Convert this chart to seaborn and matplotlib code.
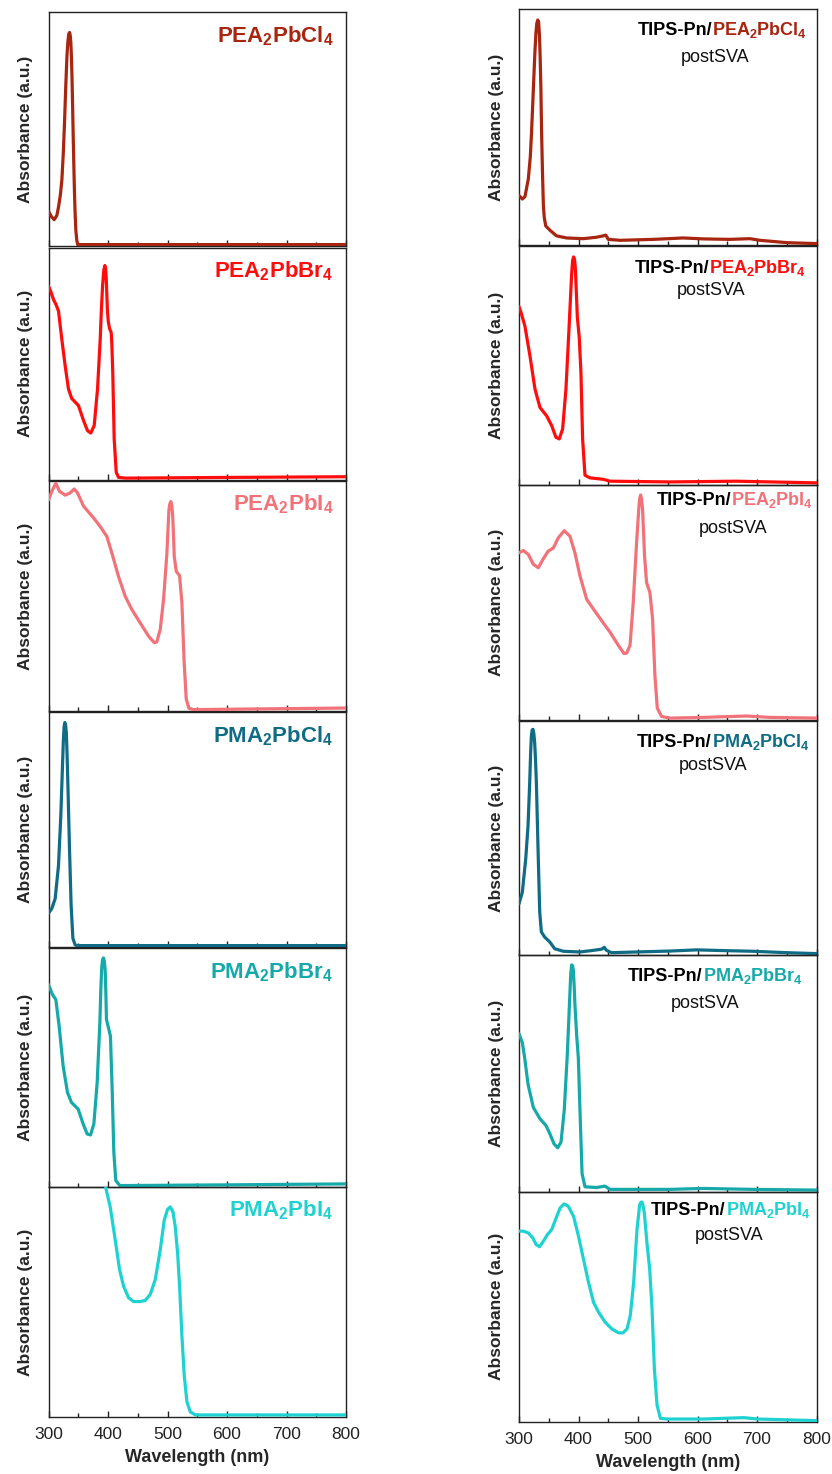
import numpy as np
import pandas as pd
import matplotlib.pyplot as plt
from matplotlib.ticker import MultipleLocator
import seaborn as sns

sns.set_style('white')
plt.rcParams['font.family'] = ['Liberation Sans', 'DejaVu Sans']
plt.rcParams['mathtext.default'] = 'regular'

# ---- pristine films (left column) ----
pea_cl_wl = [300, 305, 309.5, 314, 317, 320, 322.5, 325, 327, 329, 331, 332.5, 334, 335.3, 336.5, 337.5, 338.5, 339.5, 340.5, 341.5, 342.5, 343.5, 344.5, 346, 347.5, 349, 360, 500, 800]
pea_cl_abs = [0.143, 0.12, 0.107, 0.125, 0.164, 0.215, 0.279, 0.40, 0.53, 0.68, 0.81, 0.87, 0.905, 0.912, 0.90, 0.87, 0.81, 0.72, 0.60, 0.47, 0.35, 0.24, 0.15, 0.06, 0.02, 0.0, 0.0, 0.0, 0.0]

pea_br_wl = [300, 304, 308.4, 312.5, 316.8, 322.4, 328, 333.6, 339, 345, 350.4, 358.9, 365.6, 371, 376.8, 382.4, 386.9, 389, 391, 393, 394.7, 396, 397, 398, 399, 400.5, 402.6, 405.4, 406.5, 408, 410.4, 413.8, 417.7, 430, 600, 800]
pea_br_abs = [0.834, 0.81, 0.776, 0.755, 0.726, 0.603, 0.488, 0.387, 0.346, 0.33, 0.315, 0.25, 0.206, 0.196, 0.228, 0.387, 0.603, 0.74, 0.84, 0.905, 0.924, 0.91, 0.87, 0.80, 0.73, 0.68, 0.65, 0.632, 0.58, 0.459, 0.17, 0.026, 0.003, 0.0, 0.003, 0.006]

pea_i_wl = [300, 305.6, 312.3, 318.5, 328, 336.4, 343.2, 348.8, 358.9, 369, 375.7, 386.9, 398, 406.5, 417.6, 428.9, 440, 454, 468, 477.7, 482, 487.8, 493.4, 499, 502.4, 504, 505.7, 507, 508.5, 510, 511.3, 514.7, 520.3, 524.2, 528, 531.5, 536, 543.8, 650, 800]
pea_i_abs = [0.917, 0.955, 0.99, 0.955, 0.938, 0.948, 0.965, 0.948, 0.89, 0.859, 0.839, 0.801, 0.758, 0.685, 0.583, 0.496, 0.438, 0.38, 0.322, 0.293, 0.296, 0.351, 0.482, 0.685, 0.874, 0.90, 0.91, 0.895, 0.859, 0.77, 0.671, 0.605, 0.586, 0.467, 0.206, 0.046, 0.006, 0.0, 0.003, 0.007]

pma_cl_wl = [300, 305.6, 311.2, 316.8, 320.7, 323.5, 325, 326.3, 327.5, 328.7, 330, 331.2, 332.5, 335.3, 338, 341, 344.8, 347.6, 500, 800]
pma_cl_abs = [0.138, 0.159, 0.201, 0.343, 0.556, 0.769, 0.88, 0.939, 0.955, 0.945, 0.91, 0.82, 0.698, 0.414, 0.173, 0.031, 0.003, 0.0, 0.0, 0.0]

pma_br_wl = [300, 306.7, 312.3, 317.9, 324.6, 331.9, 338.6, 349.8, 358.3, 365, 370.6, 376.2, 381.8, 386.3, 388, 389.6, 391, 392.4, 393.8, 395.2, 396.3, 397.4, 400.8, 404.1, 407, 409.8, 413.1, 419.9, 600, 800]
pma_br_abs = [0.846, 0.804, 0.783, 0.671, 0.503, 0.392, 0.35, 0.322, 0.259, 0.217, 0.213, 0.259, 0.434, 0.685, 0.83, 0.923, 0.952, 0.958, 0.945, 0.909, 0.82, 0.699, 0.664, 0.629, 0.406, 0.14, 0.021, 0.0, 0.003, 0.007]

pma_i_wl = [390, 395.9, 403.7, 412.1, 419.4, 426.2, 434.5, 443, 454.2, 462.6, 471, 479.4, 487.8, 494.5, 500.1, 504.6, 509.1, 513, 517, 520.3, 524.2, 528.1, 532.6, 538.2, 546.6, 650, 800]
pma_i_abs = [1.07, 1.0, 0.913, 0.769, 0.639, 0.566, 0.516, 0.499, 0.499, 0.504, 0.53, 0.595, 0.725, 0.855, 0.902, 0.913, 0.892, 0.827, 0.711, 0.566, 0.35, 0.176, 0.061, 0.017, 0.003, 0.003, 0.003]

# ---- TIPS-Pn / perovskite after SVA (right column) ----
tips_pea_cl_wl = [300, 305.6, 310, 315.7, 319, 321, 323.5, 325.8, 327, 328.5, 330, 331.5, 333, 334.5, 335.5, 336.8, 338, 339.5, 341, 342.5, 345, 352, 363, 380, 408, 430, 441.6, 446, 450, 470, 526, 576, 610, 654, 688, 705, 750, 800]
tips_pea_cl_abs = [0.205, 0.19, 0.20, 0.276, 0.37, 0.47, 0.62, 0.76, 0.83, 0.90, 0.94, 0.953, 0.945, 0.88, 0.80, 0.66, 0.47, 0.30, 0.16, 0.11, 0.075, 0.057, 0.033, 0.024, 0.021, 0.027, 0.033, 0.036, 0.018, 0.014, 0.018, 0.024, 0.02, 0.018, 0.021, 0.014, 0.004, 0.0]

tips_pea_br_wl = [300, 304, 310, 318.5, 326.9, 335.3, 346.5, 354.9, 362, 367.7, 373.3, 378.9, 384.5, 388.5, 390.2, 391.8, 393.2, 394.6, 396.3, 398, 401.3, 404.1, 406.9, 410.9, 419.3, 441.7, 452.9, 553.6, 665, 800]
tips_pea_br_abs = [0.745, 0.715, 0.662, 0.536, 0.397, 0.32, 0.285, 0.244, 0.195, 0.188, 0.23, 0.397, 0.675, 0.884, 0.94, 0.954, 0.945, 0.912, 0.81, 0.703, 0.613, 0.467, 0.188, 0.035, 0.024, 0.018, 0.01, 0.007, 0.01, 0.003]

tips_pea_i_wl = [300, 307.3, 315.7, 324, 332.5, 341, 349, 357.7, 366, 376, 385.7, 394, 402.5, 413.7, 425, 438.9, 452.9, 467, 476.5, 481, 486.6, 492, 497.6, 501.6, 503, 504.4, 506, 507.7, 509.3, 511, 514.4, 520, 524.5, 528.4, 532.4, 539.6, 553.6, 609.6, 682.4, 721.6, 800]
tips_pea_i_abs = [0.709, 0.719, 0.702, 0.66, 0.645, 0.684, 0.716, 0.73, 0.773, 0.804, 0.78, 0.709, 0.61, 0.51, 0.468, 0.418, 0.369, 0.312, 0.277, 0.279, 0.312, 0.496, 0.752, 0.908, 0.945, 0.957, 0.94, 0.894, 0.80, 0.695, 0.582, 0.539, 0.426, 0.184, 0.043, 0.007, 0.0, 0.003, 0.009, 0.003, 0.0]

tips_pma_cl_wl = [300, 305.6, 311.3, 315.2, 318, 319.5, 320.8, 322.2, 323.6, 325, 326.4, 327.8, 329.2, 332, 334.8, 337.6, 343.2, 351.7, 360, 374.5, 402.5, 424.9, 438.9, 443.3, 447, 455.7, 497.6, 553.6, 598.4, 643.2, 693.6, 749.6, 800]
tips_pma_cl_abs = [0.214, 0.264, 0.407, 0.55, 0.736, 0.86, 0.936, 0.962, 0.964, 0.945, 0.905, 0.83, 0.736, 0.45, 0.179, 0.093, 0.071, 0.05, 0.021, 0.01, 0.007, 0.014, 0.019, 0.027, 0.014, 0.004, 0.007, 0.011, 0.016, 0.013, 0.01, 0.004, 0.0]

tips_pma_br_wl = [300, 305.6, 309.5, 315.2, 324, 335.3, 345.3, 352, 358.8, 365, 370.6, 376, 381.2, 385.7, 387, 388.5, 390, 391.3, 392.7, 394, 397, 399.7, 402.5, 406, 410.9, 430.5, 444.5, 452.9, 553.6, 609.6, 693.6, 800]
tips_pma_br_abs = [0.665, 0.627, 0.563, 0.45, 0.352, 0.303, 0.275, 0.239, 0.197, 0.18, 0.204, 0.338, 0.577, 0.845, 0.92, 0.958, 0.955, 0.937, 0.87, 0.789, 0.655, 0.563, 0.338, 0.07, 0.014, 0.011, 0.017, 0.003, 0.003, 0.007, 0.003, 0.0]

tips_pma_i_wl = [300, 307.3, 315.7, 323, 328.7, 334.3, 341, 347.8, 355, 362.4, 369, 375.8, 383, 391.6, 400, 408.4, 416.9, 425.3, 433.7, 445, 456.2, 467.4, 474.7, 481.5, 487, 492.7, 498.3, 502.8, 504.8, 506.7, 508.7, 510.7, 515, 519.7, 523.6, 527.5, 532, 537.6, 548.9, 610.7, 678, 700.6, 800]
tips_pma_i_abs = [0.827, 0.827, 0.819, 0.798, 0.769, 0.759, 0.783, 0.812, 0.834, 0.884, 0.928, 0.946, 0.935, 0.892, 0.805, 0.704, 0.603, 0.516, 0.473, 0.429, 0.4, 0.383, 0.383, 0.4, 0.458, 0.603, 0.834, 0.942, 0.953, 0.954, 0.935, 0.906, 0.776, 0.66, 0.487, 0.227, 0.068, 0.01, 0.007, 0.007, 0.013, 0.007, 0.0]

names = ['PEA$_2$PbCl$_4$', 'PEA$_2$PbBr$_4$', 'PEA$_2$PbI$_4$',
         'PMA$_2$PbCl$_4$', 'PMA$_2$PbBr$_4$', 'PMA$_2$PbI$_4$']
colors = ['#A8250F', '#FF0D0D', '#F2727A', '#0F6C84', '#16A9A9', '#1ED2D2']

left_data = [(pea_cl_wl, pea_cl_abs), (pea_br_wl, pea_br_abs), (pea_i_wl, pea_i_abs),
             (pma_cl_wl, pma_cl_abs), (pma_br_wl, pma_br_abs), (pma_i_wl, pma_i_abs)]
right_data = [(tips_pea_cl_wl, tips_pea_cl_abs), (tips_pea_br_wl, tips_pea_br_abs), (tips_pea_i_wl, tips_pea_i_abs),
              (tips_pma_cl_wl, tips_pma_cl_abs), (tips_pma_br_wl, tips_pma_br_abs), (tips_pma_i_wl, tips_pma_i_abs)]

# layout in pixels (figure is 832 x 1474)
W, H = 832, 1474
left_x = (48.5, 346)
right_x = (519, 816.5)
left_rows = [(12, 246), (248, 479.5), (481, 711), (712, 947), (948, 1187), (1187, 1417)]
right_rows = [(9, 245), (246, 485), (485, 719.5), (721, 955), (955, 1191.5), (1191.5, 1422)]
right_title = [(0.969, 0.89), (0.965, 0.886), (0.989, 0.915), (0.976, 0.89), (0.953, 0.89), (0.98, 0.898)]
right_post = [(0.658, 0.777), (0.647, 0.795), (0.72, 0.797), (0.652, 0.79), (0.626, 0.775), (0.706, 0.79)]

fig = plt.figure(figsize=(8.32, 14.74), dpi=100)


def make_ax(xs, row):
    x0, x1 = xs
    t, b = row
    ax = fig.add_axes([x0 / W, 1 - b / H, (x1 - x0) / W, (b - t) / H])
    ax.patch.set_alpha(0)
    return ax


def style_ax(ax, bottom):
    ax.set_xlim(300, 800)
    ax.set_ylim(-0.006, 1.0)
    ax.set_yticks([])
    ax.xaxis.set_major_locator(MultipleLocator(100))
    ax.xaxis.set_minor_locator(MultipleLocator(50))
    ax.tick_params(axis='x', which='both', direction='in', bottom=True, top=False,
                   labelsize=12.5, pad=7, colors='#222222')
    ax.tick_params(axis='x', which='major', length=4.5, width=1)
    ax.tick_params(axis='x', which='minor', length=3, width=1)
    if not bottom:
        ax.tick_params(axis='x', labelbottom=False)
        ax.set_xlabel('')
    else:
        ax.set_xlabel('Wavelength (nm)', fontsize=13, fontweight='bold', labelpad=5)
    ax.set_ylabel('Absorbance (a.u.)', fontsize=12.5, fontweight='bold', labelpad=11)
    for s in ax.spines.values():
        s.set_linewidth(1.0)
        s.set_color('#222222')


for i in range(6):
    bottom = i == 5
    # pristine film
    ax = make_ax(left_x, left_rows[i])
    wl, ab = left_data[i]
    sns.lineplot(x=wl, y=ab, ax=ax, color=colors[i], linewidth=2.3, zorder=3)
    style_ax(ax, bottom)
    ax.text(0.957, 0.872, names[i], transform=ax.transAxes, ha='right', va='baseline',
            color=colors[i], fontsize=16, fontweight='bold')

    # TIPS-Pn on top, post SVA
    ax = make_ax(right_x, right_rows[i])
    wl, ab = right_data[i]
    sns.lineplot(x=wl, y=ab, ax=ax, color=colors[i], linewidth=2.3, zorder=3)
    style_ax(ax, bottom)
    tx, ty = right_title[i]
    t = ax.text(tx, ty, names[i], transform=ax.transAxes, ha='right', va='baseline',
                color=colors[i], fontsize=13, fontweight='bold')
    ax.annotate('TIPS-Pn/', xy=(0, ty), xycoords=(t, 'axes fraction'), ha='right',
                va='baseline', color='black', fontsize=13, fontweight='bold')
    px, py = right_post[i]
    ax.text(px, py, 'postSVA', transform=ax.transAxes, ha='center', va='baseline',
            color='#111111', fontsize=13)

fig.savefig('out.png', dpi=100)
